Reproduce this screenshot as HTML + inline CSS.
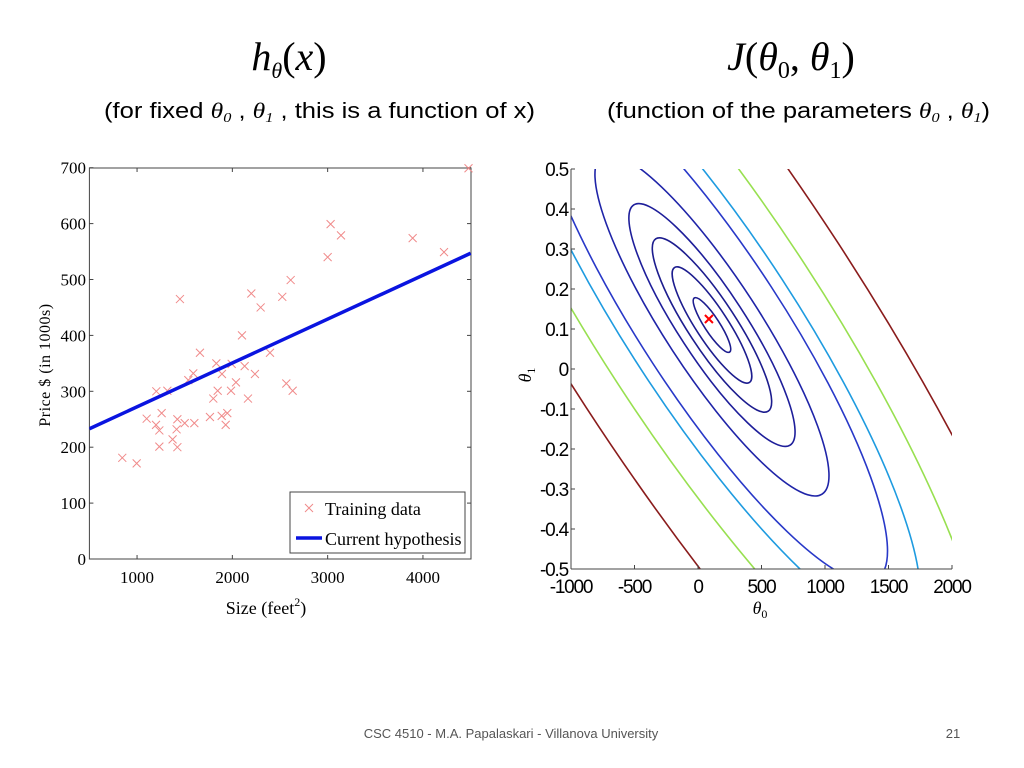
<!DOCTYPE html>
<html><head><meta charset="utf-8"><style>
html,body{margin:0;padding:0;background:#fff;width:1024px;height:768px;overflow:hidden}
svg{display:block}
.serif{font-family:"Liberation Serif",serif}
.sans{font-family:"Liberation Sans",sans-serif}
</style></head><body>
<svg id="root" width="1024" height="768" viewBox="0 0 1024 768" xmlns="http://www.w3.org/2000/svg" style="overflow:hidden">
<text x="289" y="70" text-anchor="middle" class="serif" font-size="40" font-style="italic">h<tspan font-size="22" dy="8">θ</tspan><tspan dy="-8" font-style="normal">(</tspan>x<tspan font-style="normal">)</tspan></text>
<text x="791" y="70" text-anchor="middle" class="serif" font-size="40" font-style="italic">J<tspan font-style="normal">(</tspan>θ<tspan font-size="24" dy="8" font-style="normal">0</tspan><tspan dy="-8" font-style="normal">, </tspan>θ<tspan font-size="24" dy="8" font-style="normal">1</tspan><tspan dy="-8" font-style="normal">)</tspan></text>
<text x="104" y="118" class="sans" font-size="22" textLength="431" lengthAdjust="spacingAndGlyphs">(for fixed <tspan class="serif" font-style="italic">θ<tspan font-size="14" dy="4">0</tspan></tspan><tspan dy="-4"> , </tspan><tspan class="serif" font-style="italic">θ<tspan font-size="14" dy="4">1</tspan></tspan><tspan dy="-4"> , this is a function of x)</tspan></text>
<text x="607" y="118" class="sans" font-size="22" textLength="383" lengthAdjust="spacingAndGlyphs">(function of the parameters <tspan class="serif" font-style="italic">θ<tspan font-size="14" dy="4">0</tspan></tspan><tspan dy="-4"> , </tspan><tspan class="serif" font-style="italic">θ<tspan font-size="14" dy="4">1</tspan></tspan><tspan dy="-4">)</tspan></text>
<g id="left"></g>
<g id="right"></g>
<text x="511" y="738" text-anchor="middle" class="sans" font-size="13" fill="#555">CSC 4510 - M.A. Papalaskari - Villanova University</text>
<text x="953" y="738" text-anchor="middle" class="sans" font-size="13" fill="#555">21</text>
</svg>
<script>
const sizes=[4478,3031,3140,3000,3892,4221,2612,2524,2199,2297,1450,2101,1660,2395,1832,2129,1993,1590,1538,1891,2237,1202,1318,1846,1986,2038,1800,2164,2566,2633,1101,1258,1199,1234,1423,1500,1601,1415,1765,1888,1947,1930,1373,1234,1423,845,996];
const prices=[699,599,579,540,574,549,499,469,475,450,465,400,369,369,350,345,349,332,320,331,331,300,301,301,301,316,287,287,314,301,251,261,240,230,250,243,243,232,254,256,261,240,214,201,200,181,171];
const hypTheta=[193.7,0.0785];
const xTicks=[1000,2000,3000,4000];
const yTicks=[0,100,200,300,400,500,600,700];
const t0Ticks=[-1000,-500,0,500,1000,1500,2000];
const t1Ticks=[-0.5,-0.4,-0.3,-0.2,-0.1,0,0.1,0.2,0.3,0.4,0.5];
const t1Labels=["-0.5","-0.4","-0.3","-0.2","-0.1","0","0.1","0.2","0.3","0.4","0.5"];
const contourCenter=[110,0.11];
const minimum=[86,0.125];
const contourLevels=[0.16,0.34,0.51,0.71,1.0,1.5,1.78,2.36,3.2];
const contourColors=["#1c1c8e","#1c1c8e","#1c1c8e","#1e1e9a","#1f24a8","#2838c8","#1e9be0","#98e050","#8a1c1c"];

const NS="http://www.w3.org/2000/svg";
function mk(p,tag,at,txt){const e=document.createElementNS(NS,tag);for(const k in at)e.setAttribute(k,at[k]);if(txt!==undefined)e.textContent=txt;p.appendChild(e);return e;}

// LEFT
const L=document.getElementById('left');
const lx=v=>89.4+(v-500)*0.0953, ly=v=>559-v*0.559;
const X0=89.4,X1=471,Y0=168,Y1=559;
let e=mk(L,'rect',{x:X0,y:Y0,width:X1-X0,height:Y1-Y0,fill:'none',stroke:'#444','stroke-width':1});

xTicks.forEach(v=>{const x=lx(v);
 mk(L,'line',{x1:x,x2:x,y1:Y1,y2:Y1-4,stroke:'#444'});mk(L,'line',{x1:x,x2:x,y1:Y0,y2:Y0+4,stroke:'#444'});
 e=mk(L,'text',{x:x,y:583,'text-anchor':'middle','font-size':17,class:'serif'},String(v));
 });
yTicks.forEach(v=>{const y=ly(v);
 mk(L,'line',{x1:X0,x2:X0+4,y1:y,y2:y,stroke:'#444'});mk(L,'line',{x1:X1,x2:X1-4,y1:y,y2:y,stroke:'#444'});
 e=mk(L,'text',{x:86,y:y+6,'text-anchor':'end','font-size':17,class:'serif'},String(v));
 });
e=mk(L,'text',{x:0,y:0,'text-anchor':'middle','font-size':16,class:'serif',transform:'translate(50,365) rotate(-90)','letter-spacing':'0.5'},'Price $ (in 1000s)');

e=mk(L,'text',{x:266,y:614,'text-anchor':'middle','font-size':18,class:'serif'},'Size (feet');
mk(e,'tspan',{'font-size':12,dy:-8},'2');mk(e,'tspan',{dy:8},')');

const clipL=mk(L,'clipPath',{id:'cl'});mk(clipL,'rect',{x:X0,y:Y0-6,width:X1-X0+6,height:Y1-Y0+6});
const pts=mk(L,'g',{'clip-path':'url(#cl)'});
sizes.forEach((s,i)=>{const x=lx(s),y=ly(prices[i]);
 e=mk(pts,'path',{d:`M${x-4} ${y-4}L${x+4} ${y+4}M${x-4} ${y+4}L${x+4} ${y-4}`,stroke:'#f08a8a','stroke-width':1,fill:'none'});
 });
e=mk(pts,'line',{x1:lx(500),y1:ly(hypTheta[0]+hypTheta[1]*500),x2:lx(4500),y2:ly(hypTheta[0]+hypTheta[1]*4500),stroke:'#0a14e0','stroke-width':3.5});

const lg=mk(L,'g',{});

mk(lg,'rect',{x:290,y:492,width:175,height:61,fill:'#fff',stroke:'#444'});
mk(lg,'path',{d:'M305 504L313 512M305 512L313 504',stroke:'#f08a8a'});
e=mk(lg,'text',{x:325,y:515,'font-size':18,class:'serif'},'Training data');

mk(lg,'line',{x1:296,x2:322,y1:538,y2:538,stroke:'#0a14e0','stroke-width':3.5});
e=mk(lg,'text',{x:325,y:545,'font-size':18,class:'serif'},'Current hypothesis');


// RIGHT
const R=document.getElementById('right');
const RX0=571,RX1=952,RY0=169,RY1=569;
const rx=v=>RX0+(v+1000)*(RX1-RX0)/3000, ry=v=>RY1-(v+0.5)*(RY1-RY0);
const clipR=mk(R,'clipPath',{id:'cr'});mk(clipR,'rect',{x:RX0,y:RY0,width:RX1-RX0,height:RY1-RY0});
const cg=mk(R,'g',{'clip-path':'url(#cr)'});
const cx=rx(contourCenter[0]),cy=ry(contourCenter[1]);
contourLevels.forEach((k,i)=>{
 e=mk(cg,'ellipse',{cx:0,cy:0,rx:201.8*k,ry:47*k,fill:'none',stroke:contourColors[i],'stroke-width':1.6,transform:`translate(${cx},${cy}) rotate(56.9)`});
 });
const mx=rx(minimum[0]),my=ry(minimum[1]);
e=mk(R,'path',{d:`M${mx-4} ${my-4}L${mx+4} ${my+4}M${mx-4} ${my+4}L${mx+4} ${my-4}`,stroke:'#f00','stroke-width':2});

mk(R,'line',{x1:RX0,x2:RX0,y1:RY0,y2:RY1,stroke:'#444'});
mk(R,'line',{x1:RX0,x2:RX1,y1:RY1,y2:RY1,stroke:'#444'});
t0Ticks.forEach(v=>{const x=rx(v);mk(R,'line',{x1:x,x2:x,y1:RY1,y2:RY1-4,stroke:'#444'});
 e=mk(R,'text',{x:x,y:593,'text-anchor':'middle','font-size':19,class:'sans','letter-spacing':'-1.2'},String(v));
 });
t1Ticks.forEach((v,i)=>{const y=ry(v);mk(R,'line',{x1:RX0,x2:RX0+4,y1:y,y2:y,stroke:'#444'});
 e=mk(R,'text',{x:568,y:y+7,'text-anchor':'end','font-size':19,class:'sans','letter-spacing':'-1.2'},t1Labels[i]);
 });
e=mk(R,'text',{x:760,y:614,'text-anchor':'middle','font-size':18,class:'serif','font-style':'italic'},'θ');
mk(e,'tspan',{'font-size':12,dy:4,'font-style':'normal'},'0');

e=mk(R,'text',{x:0,y:0,'text-anchor':'middle','font-size':18,class:'serif','font-style':'italic',transform:'translate(531,375) rotate(-90)'},'θ');
mk(e,'tspan',{'font-size':12,dy:4,'font-style':'normal'},'1');

</script>
</body></html>
